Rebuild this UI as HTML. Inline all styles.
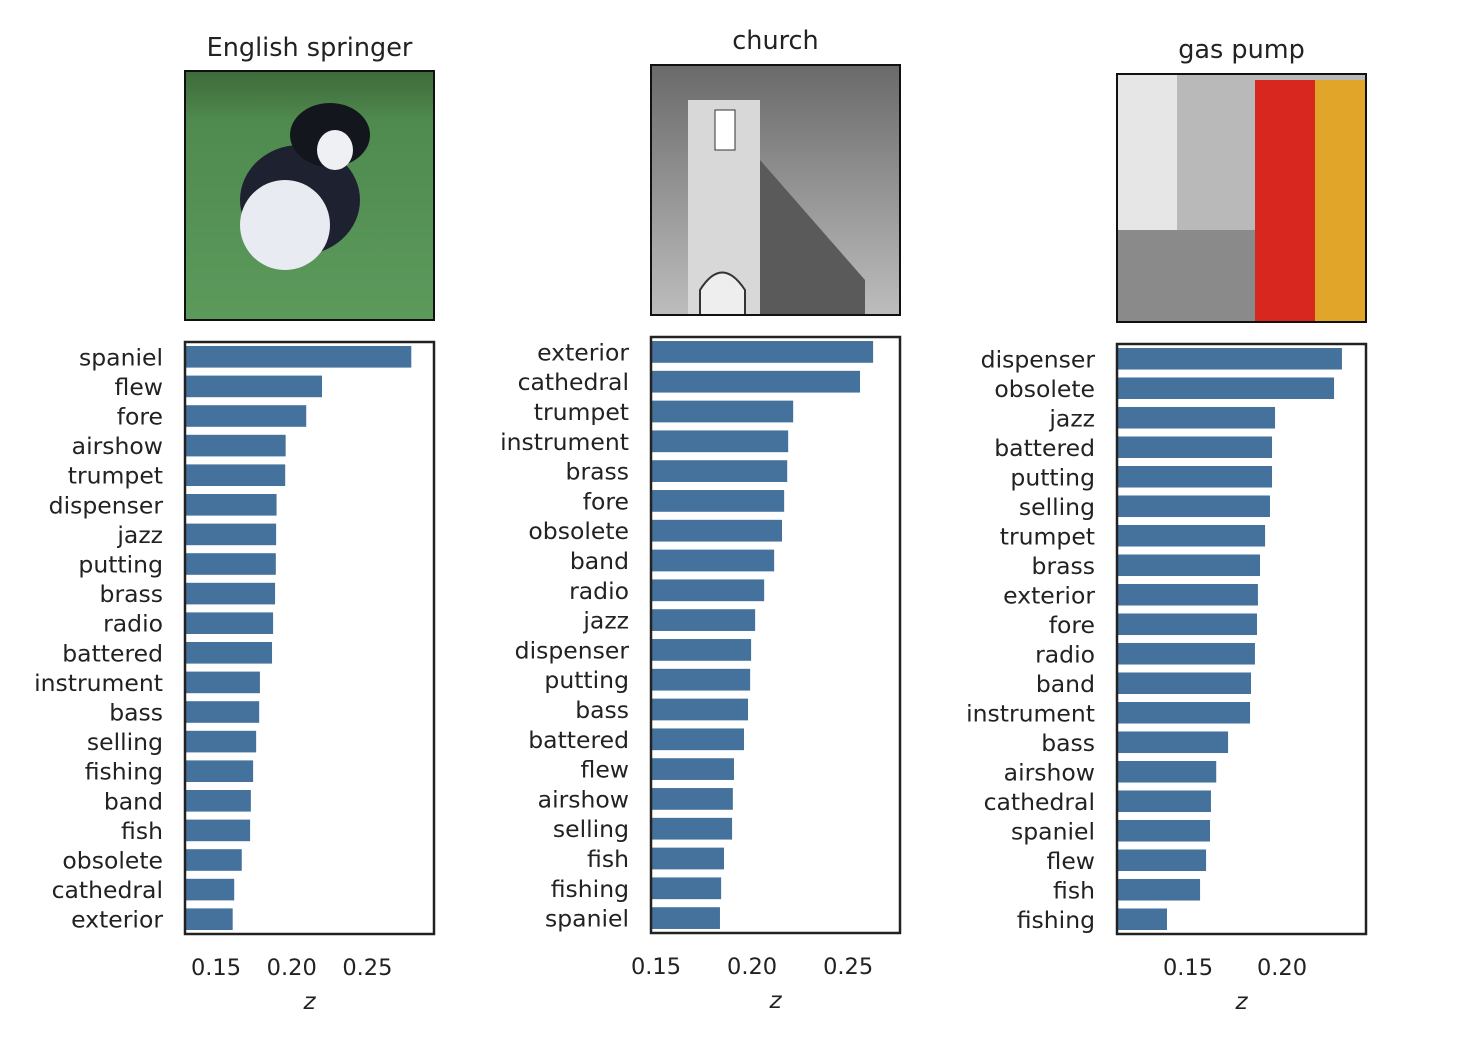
<!DOCTYPE html>
<html><head><meta charset="utf-8"><style>
body{margin:0;background:#fff;width:1462px;height:1046px;overflow:hidden;font-family:"Liberation Sans","DejaVu Sans",sans-serif;}
svg text{font-family:"DejaVu Sans","Liberation Sans",sans-serif;fill:#222;}
</style></head><body>
<svg id="chart" width="1462" height="1046" xmlns="http://www.w3.org/2000/svg">
<defs>
<linearGradient id="grass" x1="0" y1="0" x2="0" y2="1"><stop offset="0" stop-color="#3e6a3a"/><stop offset="0.2" stop-color="#4f8a4e"/><stop offset="1" stop-color="#5c9a5c"/></linearGradient>
<linearGradient id="sky" x1="0" y1="0" x2="0" y2="1"><stop offset="0" stop-color="#6a6a6a"/><stop offset="1" stop-color="#bdbdbd"/></linearGradient>
</defs>
<g>
<rect x="185" y="71" width="249" height="249" fill="url(#grass)"/>
<ellipse cx="300" cy="200" rx="60" ry="55" fill="#1e2230"/>
<ellipse cx="285" cy="225" rx="45" ry="45" fill="#e8ecf2"/>
<ellipse cx="330" cy="135" rx="40" ry="32" fill="#14161e"/>
<ellipse cx="335" cy="150" rx="18" ry="20" fill="#eef0f4"/>
<rect x="185" y="71" width="249" height="249" fill="none" stroke="#111" stroke-width="2"/>
</g>
<g>
<rect x="651" y="65" width="249" height="250" fill="url(#sky)"/>
<rect x="688" y="100" width="72" height="215" fill="#d8d8d8"/>
<polygon points="760,160 865,280 865,315 760,315" fill="#5a5a5a"/>
<rect x="715" y="110" width="20" height="40" fill="#fff" stroke="#333"/>
<path d="M700,315 L700,290 Q722,255 745,290 L745,315Z" fill="#eee" stroke="#333" stroke-width="2"/>
<rect x="651" y="65" width="249" height="250" fill="none" stroke="#111" stroke-width="2"/>
</g>
<g>
<rect x="1117" y="74" width="249" height="248" fill="#b9b9b9"/>
<rect x="1117" y="74" width="60" height="200" fill="#e6e6e6"/>
<rect x="1117" y="230" width="150" height="92" fill="#8a8a8a"/>
<rect x="1255" y="80" width="60" height="242" fill="#d8271e"/>
<rect x="1315" y="80" width="51" height="242" fill="#e1a52a"/>
<rect x="1117" y="74" width="249" height="248" fill="none" stroke="#111" stroke-width="2"/>
</g>
</svg>
<script>
const labels1=["spaniel","flew","fore","airshow","trumpet","dispenser","jazz","putting","brass","radio","battered","instrument","bass","selling","fishing","band","fish","obsolete","cathedral","exterior"];
const values1=[0.279,0.220,0.2096,0.196,0.1957,0.190,0.1897,0.1895,0.189,0.1877,0.187,0.179,0.1785,0.1765,0.1745,0.173,0.1725,0.167,0.162,0.161];
const labels2=["exterior","cathedral","trumpet","instrument","brass","fore","obsolete","band","radio","jazz","dispenser","putting","bass","battered","flew","airshow","selling","fish","fishing","spaniel"];
const values2=[0.263,0.2562,0.2214,0.2188,0.2183,0.2167,0.2156,0.2115,0.2063,0.2016,0.1995,0.199,0.1979,0.1958,0.1906,0.190,0.1896,0.1854,0.1839,0.1833];
const labels3=["dispenser","obsolete","jazz","battered","putting","selling","trumpet","brass","exterior","fore","radio","band","instrument","bass","airshow","cathedral","spaniel","flew","fish","fishing"];
const values3=[0.2319,0.2277,0.1963,0.1947,0.1947,0.1936,0.191,0.1883,0.1872,0.1867,0.1856,0.1835,0.183,0.1713,0.165,0.1622,0.1617,0.1596,0.1564,0.1388];
const ticks1=[0.15,0.20,0.25], ticks2=[0.15,0.20,0.25], ticks3=[0.15,0.20];
const titles=["English springer","church","gas pump"];
const NS="http://www.w3.org/2000/svg";
const svg=document.getElementById('chart');
function mk(tag,attrs,parent){const e=document.createElementNS(NS,tag);for(const k in attrs)e.setAttribute(k,attrs[k]);(parent||svg).appendChild(e);return e;}
const panels=[
 {labels:labels1,values:values1,ticks:ticks1,title:titles[0],x0:185,x1:434,y0:342,y1:934,xmin:0.1295,xmax:0.294,ty:56},
 {labels:labels2,values:values2,ticks:ticks2,title:titles[1],x0:651,x1:900,y0:337,y1:933,xmin:0.1474,xmax:0.277,ty:49},
 {labels:labels3,values:values3,ticks:ticks3,title:titles[2],x0:1117,x1:1366,y0:344,y1:934,xmin:0.1122,xmax:0.2447,ty:58}
];
panels.forEach((p,pi)=>{
 const g=mk('g',{});
 
 
 const sx=v=>p.x0+(v-p.xmin)/(p.xmax-p.xmin)*(p.x1-p.x0);
 const step=(p.y1-p.y0)/p.labels.length;
 const t=mk('text',{x:(p.x0+p.x1)/2,y:p.ty,'font-size':25.5,'text-anchor':'middle'},g);
 t.textContent=p.title;
 
 
 p.labels.forEach((lab,i)=>{
  const cy=p.y0+step*(i+0.5), h=step*0.73;
  const r=mk('rect',{x:p.x0,y:cy-h/2,width:sx(p.values[i])-p.x0,height:h,fill:'#45729c'},g);
  
  
  const tl=mk('text',{x:p.x0-22,y:cy+8.5,'font-size':23.5,'text-anchor':'end'},g);
  tl.textContent=lab;
  
  
 });
 const b=mk('rect',{x:p.x0,y:p.y0,width:p.x1-p.x0,height:p.y1-p.y0,fill:'none',stroke:'#222','stroke-width':2.5},g);
 
 
 p.ticks.forEach(tv=>{
  const tt=mk('text',{x:sx(tv),y:p.y1+41,'font-size':22.5,'text-anchor':'middle'},g);
  tt.textContent=tv.toFixed(2);
  
  
 });
 const xl=mk('text',{x:(p.x0+p.x1)/2,y:p.y1+75,'font-size':23,'font-style':'italic','text-anchor':'middle'},g);
 xl.textContent='z';
 
 
});
</script>
</body></html>
